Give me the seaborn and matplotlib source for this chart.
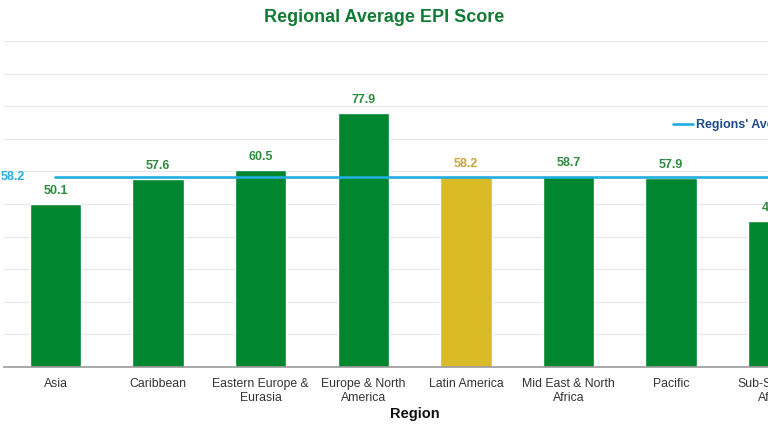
import matplotlib
matplotlib.use("Agg")
import matplotlib.pyplot as plt
from matplotlib.lines import Line2D
import seaborn as sns
import pandas as pd

regions = ["Asia", "Caribbean", "Eastern Europe &\nEurasia", "Europe & North\nAmerica",
           "Latin America", "Mid East & North\nAfrica", "Pacific", "Sub-Saharan\nAfrica"]
scores = [50.1, 57.6, 60.5, 77.9, 58.2, 58.7, 57.9, 44.9]
average = 58.2
highlight = "Latin America"

GREEN = "#00862f"
GOLD = "#d9ba27"
CYAN = "#22aee0"

sns.set_theme(style="white")
plt.rcParams["font.family"] = ["Liberation Sans", "DejaVu Sans"]

df = pd.DataFrame({"Region": regions, "Score": scores})
palette = {r: (GOLD if r == highlight else GREEN) for r in regions}

fig = plt.figure(figsize=(7.68, 4.32), dpi=100)
ax = fig.add_axes([4.2 / 768, 65 / 432, 820.8 / 768, 326 / 432])

sns.barplot(data=df, x="Region", y="Score", hue="Region", palette=palette,
            width=0.5, legend=False, ax=ax, saturation=1)

ax.set_ylim(0, 100)
ax.set_yticks(range(0, 101, 10))
ax.set_yticklabels([])
ax.tick_params(axis="y", length=0)
ax.grid(axis="y", color="#e6e6e6", linewidth=0.8)
ax.set_axisbelow(True)
for s in ["top", "right", "left"]:
    ax.spines[s].set_visible(False)
ax.spines["bottom"].set_color("#9a9a9a")
ax.spines["bottom"].set_linewidth(1.2)
ax.set_xlim(-0.5, len(regions) - 0.5)

ax.tick_params(axis="x", length=0, pad=8, labelsize=8.8, labelcolor="#333333")
ax.set_ylabel("")
ax.set_xlabel("Region", fontsize=10.5, fontweight="bold", color="#111111", labelpad=2)

# value labels
for i, cont in enumerate(ax.containers):
    r = regions[i]
    col = "#c9a53a" if r == highlight else "#2e8b3e"
    ax.bar_label(cont, fmt="%.1f", padding=5, fontsize=9, fontweight="bold", color=col)

# average line
ax.plot(range(len(regions)), [average] * len(regions), color=CYAN, linewidth=1.9, zorder=1.5)
ax.annotate(f"{average:.1f}", xy=(0, average), xycoords=("axes fraction", "data"),
            xytext=(-2.5, 0), textcoords="offset points", ha="left", va="center",
            fontsize=9, fontweight="bold", color=CYAN, annotation_clip=False)

handle = Line2D([0], [0], color=CYAN, linewidth=1.9)
leg = fig.legend(handles=[handle], labels=["Regions' Average"], loc="center left",
                 bbox_to_anchor=(673 / 768, 1 - 125 / 432), frameon=False,
                 borderpad=0, borderaxespad=0, handlelength=1.6, handletextpad=0.2,
                 prop={"size": 9, "weight": "bold"}, labelcolor="#1f4a8a")

fig.text(384 / 768, 1 - 18 / 432, "Regional Average EPI Score", ha="center", va="center",
         fontsize=13, fontweight="bold", color="#137a35")

fig.savefig("out.png", dpi=100)
